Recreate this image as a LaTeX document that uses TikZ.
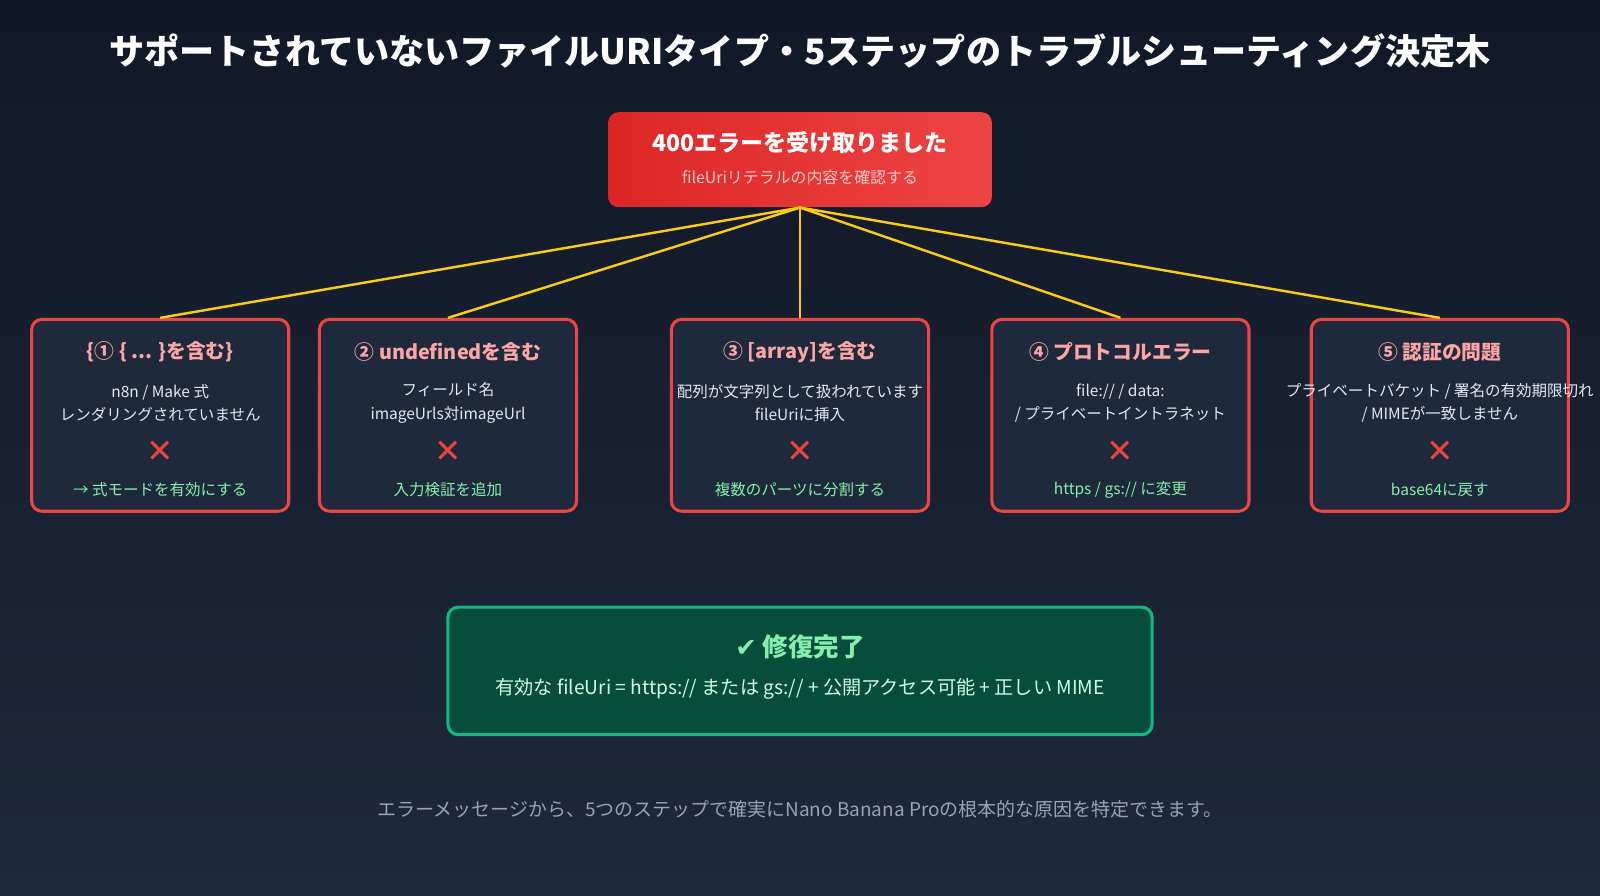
\documentclass[tikz,border=0pt]{standalone}
\usepackage{fontspec}
\setmainfont{Noto Sans CJK JP}
\newfontfamily\djv{DejaVu Sans}
\definecolor{bgA}{HTML}{111827}
\definecolor{bgB}{HTML}{1E293B}
\definecolor{cardbg}{HTML}{1E293B}
\definecolor{redline}{HTML}{EF4444}
\definecolor{redtop}{HTML}{DC2626}
\definecolor{pinkt}{HTML}{FCA5A5}
\definecolor{bodyt}{HTML}{E2E8F0}
\definecolor{greent}{HTML}{86EFAC}
\definecolor{yel}{HTML}{FACC15}
\definecolor{okbg}{HTML}{064E3B}
\definecolor{okline}{HTML}{10B981}
\definecolor{okt}{HTML}{D1FAE5}
\definecolor{foot}{HTML}{94A3B8}
\definecolor{subt}{HTML}{FECACA}
\tikzset{
 card/.style={draw=redline,line width=1.5pt,fill=cardbg,rounded corners=5pt,minimum width=126pt,minimum height=94pt,inner sep=0pt},
 ctitle/.style={text=pinkt,font=\fontsize{9.7}{11}\selectfont\bfseries},
 cbody/.style={text=bodyt,font=\fontsize{7.6}{11.5}\selectfont,align=center},
 cross/.style={text=redline,font=\djv\fontsize{16}{16}\selectfont},
 cfix/.style={text=greent,font=\fontsize{7.6}{9}\selectfont},
 conn/.style={draw=yel,line width=1.2pt}
}
\begin{document}
\begin{tikzpicture}[x=0.5pt,y=-0.5pt]
\shade[top color=bgA,bottom color=bgB] (0,0) rectangle (1568,878);
\useasboundingbox (0,0) rectangle (1568,878);
\node[text=white,font=\fontsize{17.2}{18}\selectfont\bfseries] (title) at (784,50) {サポートされていないファイルURIタイプ・5ステップのトラブルシューティング決定木};
\node[rounded corners=5pt,left color=redtop,right color=redline,minimum width=188pt,minimum height=46.5pt] (root) at (784,156.5) {};
\node[text=white,font=\fontsize{11.3}{12}\selectfont\bfseries] (rt) at (784,140) {400エラーを受け取りました};
\node[text=subt,font=\fontsize{7.8}{9}\selectfont] (rs) at (784,174) {fileUriリテラルの内容を確認する};
\foreach \i/\x/\t/\a/\f in {
 1/157/{\{① \{ ... \}を含む\}}/{n8n / Make 式\\レンダリングされていません}/{→ 式モードを有効にする},
 2/439/{② undefinedを含む}/{フィールド名\\imageUrls対imageUrl}/{入力検証を追加},
 3/784/{③ [array]を含む}/{配列が文字列として扱われています\\fileUriに挿入}/{複数のパーツに分割する},
 4/1098/{④ プロトコルエラー}/{file:// / data:\\/ プライベートイントラネット}/{https / gs:// に変更},
 5/1411/{⑤ 認証の問題}/{プライベートバケット / 署名の有効期限切れ\\/ MIMEが一致しません}/{base64に戻す}}
{
 \node[card] (c\i) at (\x,407) {};
 \node[ctitle] (t\i) at (\x,345) {\t};
 \node[cbody] (b\i) at (\x,395) {\a};
 \node[cross] (x\i) at (\x,443) {✕};
 \node[cfix] (f\i) at (\x,480) {\f};
 \draw[conn] (root.south) -- (c\i.north);
}
\node[draw=okline,line width=1.5pt,fill=okbg,rounded corners=5pt,minimum width=345pt,minimum height=62.5pt] (ok) at (784,657.5) {};
\node[text=greent,font=\fontsize{12.5}{14}\selectfont\bfseries] (okt) at (784,634) {{\djv ✔} 修復完了};
\node[text=okt,font=\fontsize{9.4}{11}\selectfont] (okb) at (784,675) {有効な fileUri = https:// または gs:// + 公開アクセス可能 + 正しい MIME};
\node[text=foot,font=\fontsize{9.3}{10}\selectfont] (ft) at (784,793) {エラーメッセージから、5つのステップで確実にNano Banana Proの根本的な原因を特定できます。};
\end{tikzpicture}
\end{document}
